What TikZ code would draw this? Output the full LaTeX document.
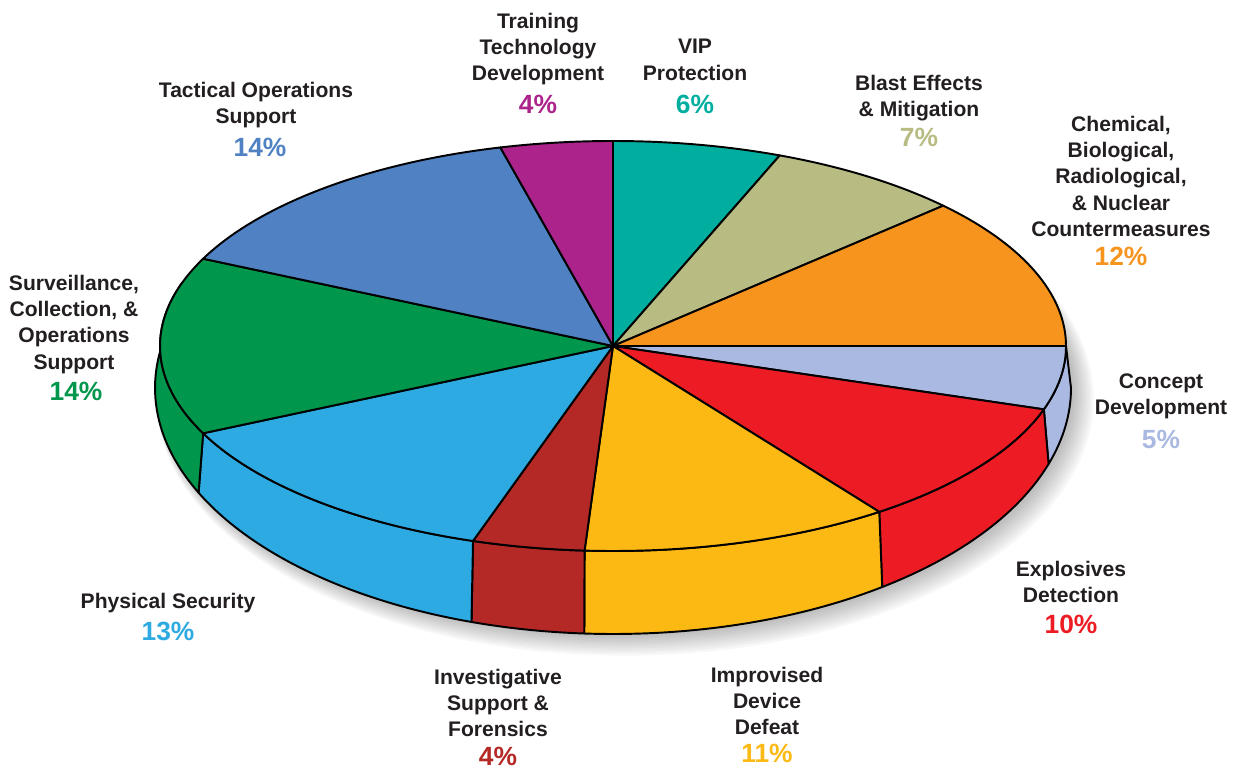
\documentclass[tikz,border=0pt]{standalone}
\usepackage{fontspec}
\setmainfont{Liberation Sans}
\usetikzlibrary{calc}

\definecolor{ink}{RGB}{35,31,32}
\definecolor{vip}{RGB}{0,174,160}
\definecolor{blast}{RGB}{185,188,130}
\definecolor{cbrn}{RGB}{247,148,30}
\definecolor{concept}{RGB}{170,185,225}
\definecolor{expl}{RGB}{237,28,36}
\definecolor{idd}{RGB}{253,185,19}
\definecolor{inv}{RGB}{180,40,38}
\definecolor{phys}{RGB}{45,170,226}
\definecolor{surv}{RGB}{0,150,75}
\definecolor{tac}{RGB}{80,130,195}
\definecolor{train}{RGB}{172,35,140}

\tikzset{
  pie/.style={draw=black, line width=1.1pt, line join=round},
  lbl/.style={font=\bfseries\fontsize{12}{14.9}\selectfont, text=ink, align=center, inner sep=0pt, anchor=north},
  pct/.style={font=\bfseries\fontsize{15}{18}\selectfont, inner sep=0pt, anchor=north}
}

\begin{document}
\begin{tikzpicture}[x=0.02cm, y=0.02cm]
    \useasboundingbox (0,0) rectangle (1240,769);
    \coordinate (C) at (613,423);
    \coordinate (B) at (613,381);

    % Sombra
    \foreach \s in {1,...,9}
        \fill[black, opacity=0.03] ($(B)+(3+\s,-2-\s)$) ellipse[x radius=456+1.4*\s, y radius=244+1.4*\s];

    % Lateral
    \foreach \a/\b/\c in {0/-18/concept, -18/-54/expl, -54/-93.6/idd,
                          -93.6/-108/inv, -108/-154.8/phys, -154.8/-198/surv}
        \filldraw[pie, fill=\c] ($(C)+(\a:453 and 205)$)
            arc[start angle=\a, end angle=\b, x radius=453, y radius=205]
            -- ($(B)+(\b:458 and 246)$)
            arc[start angle=\b, end angle=\a, x radius=458, y radius=246] -- cycle;

    % Cara superior
    \foreach \a/\b/\c in {90/68.4/vip, 68.4/43.2/blast, 43.2/0/cbrn, 0/-18/concept,
                          -18/-54/expl, -54/-93.6/idd, -93.6/-108/inv, -108/-154.8/phys,
                          -154.8/-205.2/surv, -205.2/-255.6/tac, -255.6/-270/train}
        \filldraw[pie, fill=\c] (C) -- ($(C)+(\a:453 and 205)$)
            arc[start angle=\a, end angle=\b, x radius=453, y radius=205] -- cycle;

    % Etiquetas
    \node[lbl] (trainL) at (538,756) {Training\\Technology\\Development};
    \node[pct, text=train] (trainP) at (538,674) {4\%};
    \node[lbl] (vipL) at (695,730) {VIP\\Protection};
    \node[pct, text=vip] (vipP) at (695,674) {6\%};
    \node[lbl] (blastL) at (919,694) {Blast Effects\\\& Mitigation};
    \node[pct, text=blast] (blastP) at (919,641) {7\%};
    \node[lbl] (cbrnL) at (1121,653) {Chemical,\\Biological,\\Radiological,\\\& Nuclear\\Countermeasures};
    \node[pct, text=cbrn] (cbrnP) at (1121,522) {12\%};
    \node[lbl] (conceptL) at (1161,396) {Concept\\Development};
    \node[pct, text=concept] (conceptP) at (1161,339) {5\%};
    \node[lbl] (explL) at (1071,208) {Explosives\\Detection};
    \node[pct, text=expl] (explP) at (1071,154) {10\%};
    \node[lbl] (iddL) at (767,102) {Improvised\\Device\\Defeat};
    \node[pct, text=idd] (iddP) at (767,25) {11\%};
    \node[lbl] (invL) at (498,100) {Investigative\\Support \&\\Forensics};
    \node[pct, text=inv] (invP) at (498,22) {4\%};
    \node[lbl] (physL) at (168,176) {Physical Security};
    \node[pct, text=phys] (physP) at (168,147) {13\%};
    \node[lbl] (survL) at (74,494) {Surveillance,\\Collection, \&\\Operations\\Support};
    \node[pct, text=surv] (survP) at (76,387) {14\%};
    \node[lbl] (tacL) at (256,687) {Tactical Operations\\Support};
    \node[pct, text=tac] (tacP) at (260,631) {14\%};
\end{tikzpicture}
\end{document}
